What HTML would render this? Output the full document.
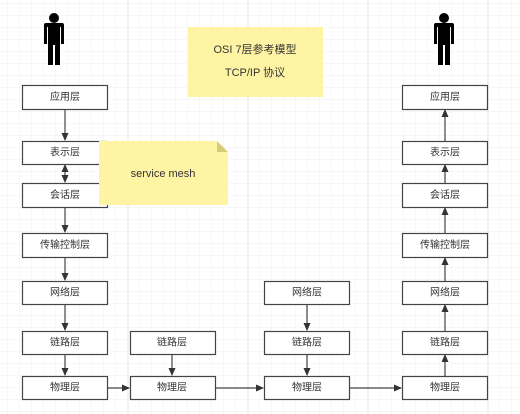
<!DOCTYPE html>
<html><head><meta charset="utf-8"><style>
body{margin:0;background:#fff}
svg{display:block}
text{font-family:"Liberation Sans","Noto Sans CJK SC",sans-serif;font-size:10px;fill:#333;text-anchor:middle;dominant-baseline:central}
</style></head><body>
<svg width="520" height="414" viewBox="0 0 520 414" xmlns="http://www.w3.org/2000/svg">
<defs>
<pattern id="g" width="12" height="12" patternUnits="userSpaceOnUse" x="8" y="4">
<path d="M12 0V12M0 12H12" stroke="#efefef" stroke-width="1" fill="none"/>
</pattern>
<marker id="a" markerWidth="8" markerHeight="8" refX="7" refY="4" orient="auto" markerUnits="userSpaceOnUse">
<path d="M0,0.5 L8,4 L0,7.5 Z" fill="#333"/>
</marker>
</defs>
<rect width="520" height="414" fill="url(#g)"/>
<path d="M128 0V414M248 0V414M368 0V414M488 0V414" stroke="#e4e4e4"/>
<g stroke="#444" stroke-width="1.2" fill="#fff">
<rect x="22.5" y="85.5" width="85" height="24"/>
<rect x="22.5" y="141.5" width="85" height="23"/>
<rect x="22.5" y="183.5" width="85" height="24"/>
<rect x="22.5" y="233.5" width="85" height="24"/>
<rect x="22.5" y="281.5" width="85" height="23"/>
<rect x="22.5" y="331.5" width="85" height="23"/>
<rect x="22.5" y="376.5" width="85" height="23"/>
<rect x="130.5" y="331.5" width="85" height="23"/>
<rect x="130.5" y="376.5" width="85" height="23"/>
<rect x="264.5" y="281.5" width="85" height="23"/>
<rect x="264.5" y="331.5" width="85" height="23"/>
<rect x="264.5" y="376.5" width="85" height="23"/>
<rect x="402.5" y="85.5" width="85" height="24"/>
<rect x="402.5" y="141.5" width="85" height="23"/>
<rect x="402.5" y="183.5" width="85" height="24"/>
<rect x="402.5" y="233.5" width="85" height="24"/>
<rect x="402.5" y="281.5" width="85" height="23"/>
<rect x="402.5" y="331.5" width="85" height="23"/>
<rect x="402.5" y="376.5" width="85" height="23"/>
</g>
<g stroke="#444" stroke-width="1.2" fill="none" marker-end="url(#a)">
<path d="M65 110V140"/>
<path d="M65 172V182"/>
<path d="M65 172V165"/>
<path d="M65 208V232"/>
<path d="M65 258V280"/>
<path d="M65 305V330"/>
<path d="M65 355V375"/>
<path d="M172 355V375"/>
<path d="M307 305V330"/>
<path d="M307 355V375"/>
<path d="M445 376V355"/>
<path d="M445 331V305"/>
<path d="M445 281V258"/>
<path d="M445 233V208"/>
<path d="M445 183V165"/>
<path d="M445 141V110"/>
<path d="M108 388H129"/>
<path d="M216 388H263"/>
<path d="M350 388H401"/>
</g>
<g>
<text x="65" y="97.5">应用层</text><text x="65" y="153">表示层</text><text x="65" y="195.5">会话层</text>
<text x="65" y="245.5">传输控制层</text><text x="65" y="293">网络层</text><text x="65" y="343">链路层</text><text x="65" y="388">物理层</text>
<text x="172" y="343">链路层</text><text x="172" y="388">物理层</text>
<text x="307" y="293">网络层</text><text x="307" y="343">链路层</text><text x="307" y="388">物理层</text>
<text x="445" y="97.5">应用层</text><text x="445" y="153">表示层</text><text x="445" y="195.5">会话层</text>
<text x="445" y="245.5">传输控制层</text><text x="445" y="293">网络层</text><text x="445" y="343">链路层</text><text x="445" y="388">物理层</text>
</g>
<rect x="188" y="27" width="135" height="70" fill="#fff4a3"/>
<text x="255" y="50" style="font-size:11px">OSI  7层参考模型</text>
<text x="255" y="73" style="font-size:11px">TCP/IP  协议</text>
<path d="M99 141H217L228 152V205H99Z" fill="#fff4a3"/>
<path d="M217 141L228 152H217Z" fill="#d8cc78"/>
<text x="163" y="174" style="font-size:11px">service mesh</text>
<g fill="#000">
<g transform="translate(54,13)">
<circle cx="0" cy="5" r="5"/>
<path d="M-10 12 Q-10 10 -8 10 H8 Q10 10 10 12 V31 H7 V14 H6 V52 H1 V32 H-1 V52 H-6 V14 H-7 V31 H-10 Z"/>
</g>
<g transform="translate(444,13)">
<circle cx="0" cy="5" r="5"/>
<path d="M-10 12 Q-10 10 -8 10 H8 Q10 10 10 12 V31 H7 V14 H6 V52 H1 V32 H-1 V52 H-6 V14 H-7 V31 H-10 Z"/>
</g>
</g>
</svg>
</body></html>
